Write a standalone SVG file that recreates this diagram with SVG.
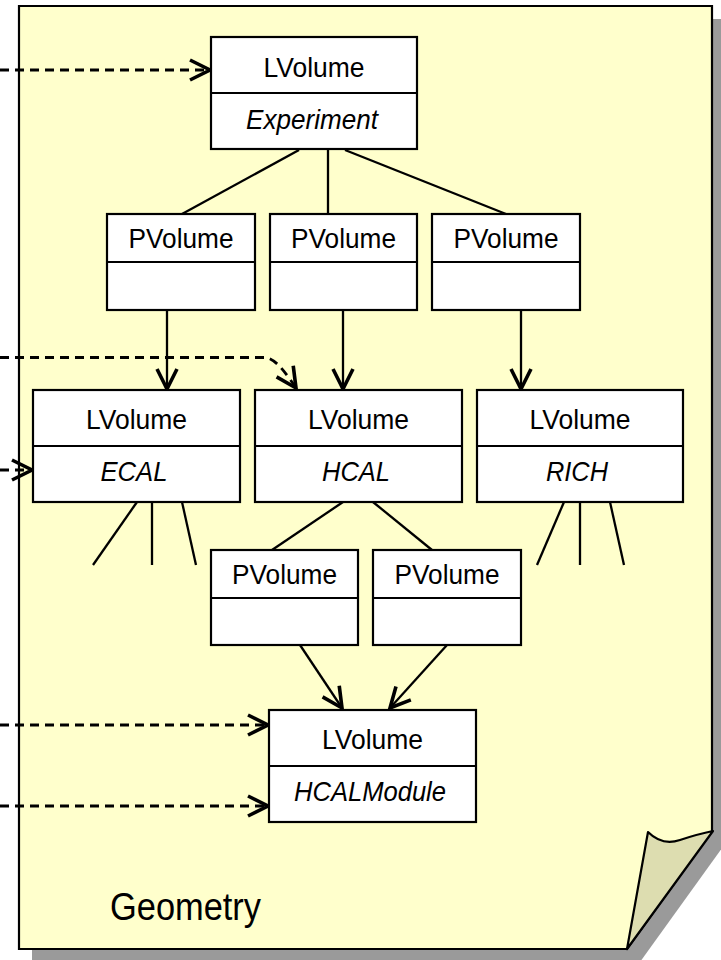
<svg xmlns="http://www.w3.org/2000/svg" width="721" height="960" viewBox="0 0 721 960">
  <style>
    .box { fill: #ffffff; stroke: #000000; stroke-width: 2.2; }
    .sep { stroke: #000000; stroke-width: 2.2; }
    .lbl { font-family: "Liberation Sans", Arial, sans-serif; font-size: 28px; fill: #000000; text-anchor: middle; }
    .it { font-style: italic; }
    .edge { fill: none; stroke: #000000; stroke-width: 2.3; }
    .dep { fill: none; stroke: #000000; stroke-width: 2.8; stroke-dasharray: 9 6; }
  </style>
  <defs>
    <marker id="open" markerUnits="userSpaceOnUse" viewBox="-24 -14 28 28" refX="0" refY="0" markerWidth="28" markerHeight="28" orient="auto" overflow="visible">
      <path d="M-20,-10 L0,0 L-20,10" fill="none" stroke="#000000" stroke-width="3.6" stroke-dasharray="none"/>
    </marker>
  </defs>

  <!-- package: shadow, sheet, folded corner -->
  <g id="package">
    <path d="M32,19 H725 V844 L640,962 H32 Z" fill="#9a9a9a"/>
    <path d="M19,6 H712 V831 L627,949 H19 Z" fill="#ffffcc" stroke="#000000" stroke-width="2.2"/>
    <path d="M648,832 Q662,846 680,840 T713,831 L627,949 Z" fill="#ddddb0" stroke="#000000" stroke-width="2.2" stroke-linejoin="round"/>
    <text x="110" y="920" font-family="'Liberation Sans', Arial, sans-serif" font-size="38" textLength="151" lengthAdjust="spacingAndGlyphs">Geometry</text>
  </g>

  <!-- connectors -->
  <g id="connectors">
    <line class="edge" x1="299" y1="150" x2="182" y2="214"/>
    <line class="edge" x1="328" y1="150" x2="328" y2="214"/>
    <line class="edge" x1="345" y1="150" x2="506" y2="214"/>
    <line class="edge" x1="167" y1="310" x2="167" y2="389" marker-end="url(#open)"/>
    <line class="edge" x1="343" y1="310" x2="343" y2="389" marker-end="url(#open)"/>
    <line class="edge" x1="521" y1="310" x2="521" y2="389" marker-end="url(#open)"/>
    <line class="edge" x1="137" y1="502" x2="93" y2="565"/>
    <line class="edge" x1="152" y1="502" x2="152" y2="565"/>
    <line class="edge" x1="182" y1="502" x2="196" y2="565"/>
    <line class="edge" x1="564" y1="502" x2="537" y2="565"/>
    <line class="edge" x1="580" y1="502" x2="580" y2="565"/>
    <line class="edge" x1="610" y1="502" x2="624" y2="565"/>
    <line class="edge" x1="343" y1="502" x2="272" y2="550"/>
    <line class="edge" x1="373" y1="502" x2="432" y2="550"/>
    <line class="edge" x1="300" y1="645" x2="342" y2="708" marker-end="url(#open)"/>
    <line class="edge" x1="447" y1="645" x2="390" y2="708" marker-end="url(#open)"/>
    <line class="dep" x1="0" y1="70" x2="210" y2="70" marker-end="url(#open)"/>
    <path class="dep" d="M0,357.5 H264 C272,357.5 280,364 296,388" marker-end="url(#open)"/>
    <line class="dep" x1="0" y1="470" x2="32" y2="470" marker-end="url(#open)"/>
    <line class="dep" x1="0" y1="725" x2="268" y2="725" marker-end="url(#open)"/>
    <line class="dep" x1="0" y1="806" x2="268" y2="806" marker-end="url(#open)"/>
  </g>

  <!-- nodes -->
  <g id="experiment">
    <rect class="box" x="211" y="37" width="206" height="112"/>
    <line class="sep" x1="211" y1="93" x2="417" y2="93"/>
    <text class="lbl" x="314" y="77" textLength="101" lengthAdjust="spacingAndGlyphs">LVolume</text>
    <text class="lbl it" x="312" y="129" textLength="132" lengthAdjust="spacingAndGlyphs">Experiment</text>
  </g>
  <g id="pv1">
    <rect class="box" x="107" y="214" width="148" height="96"/>
    <line class="sep" x1="107" y1="262" x2="255" y2="262"/>
    <text class="lbl" x="181" y="248" textLength="105" lengthAdjust="spacingAndGlyphs">PVolume</text>
  </g>
  <g id="pv2">
    <rect class="box" x="270" y="214" width="147" height="96"/>
    <line class="sep" x1="270" y1="262" x2="417" y2="262"/>
    <text class="lbl" x="343.5" y="248" textLength="105" lengthAdjust="spacingAndGlyphs">PVolume</text>
  </g>
  <g id="pv3">
    <rect class="box" x="432" y="214" width="148" height="96"/>
    <line class="sep" x1="432" y1="262" x2="580" y2="262"/>
    <text class="lbl" x="506" y="248" textLength="105" lengthAdjust="spacingAndGlyphs">PVolume</text>
  </g>
  <g id="ecal">
    <rect class="box" x="33" y="390" width="207" height="112"/>
    <line class="sep" x1="33" y1="446" x2="240" y2="446"/>
    <text class="lbl" x="136.5" y="429" textLength="101" lengthAdjust="spacingAndGlyphs">LVolume</text>
    <text class="lbl it" x="134" y="481" textLength="67" lengthAdjust="spacingAndGlyphs">ECAL</text>
  </g>
  <g id="hcal">
    <rect class="box" x="255" y="390" width="207" height="112"/>
    <line class="sep" x1="255" y1="446" x2="462" y2="446"/>
    <text class="lbl" x="358.5" y="429" textLength="101" lengthAdjust="spacingAndGlyphs">LVolume</text>
    <text class="lbl it" x="356" y="481" textLength="68" lengthAdjust="spacingAndGlyphs">HCAL</text>
  </g>
  <g id="rich">
    <rect class="box" x="477" y="390" width="206" height="112"/>
    <line class="sep" x1="477" y1="446" x2="683" y2="446"/>
    <text class="lbl" x="580" y="429" textLength="101" lengthAdjust="spacingAndGlyphs">LVolume</text>
    <text class="lbl it" x="577" y="481" textLength="62" lengthAdjust="spacingAndGlyphs">RICH</text>
  </g>
  <g id="pv4">
    <rect class="box" x="211" y="550" width="147" height="95"/>
    <line class="sep" x1="211" y1="598" x2="358" y2="598"/>
    <text class="lbl" x="284.5" y="584" textLength="105" lengthAdjust="spacingAndGlyphs">PVolume</text>
  </g>
  <g id="pv5">
    <rect class="box" x="373" y="550" width="148" height="95"/>
    <line class="sep" x1="373" y1="598" x2="521" y2="598"/>
    <text class="lbl" x="447" y="584" textLength="105" lengthAdjust="spacingAndGlyphs">PVolume</text>
  </g>
  <g id="hcalmodule">
    <rect class="box" x="269" y="710" width="207" height="112"/>
    <line class="sep" x1="269" y1="766" x2="476" y2="766"/>
    <text class="lbl" x="372.5" y="749" textLength="101" lengthAdjust="spacingAndGlyphs">LVolume</text>
    <text class="lbl it" x="370" y="801" textLength="152" lengthAdjust="spacingAndGlyphs">HCALModule</text>
  </g>
</svg>
